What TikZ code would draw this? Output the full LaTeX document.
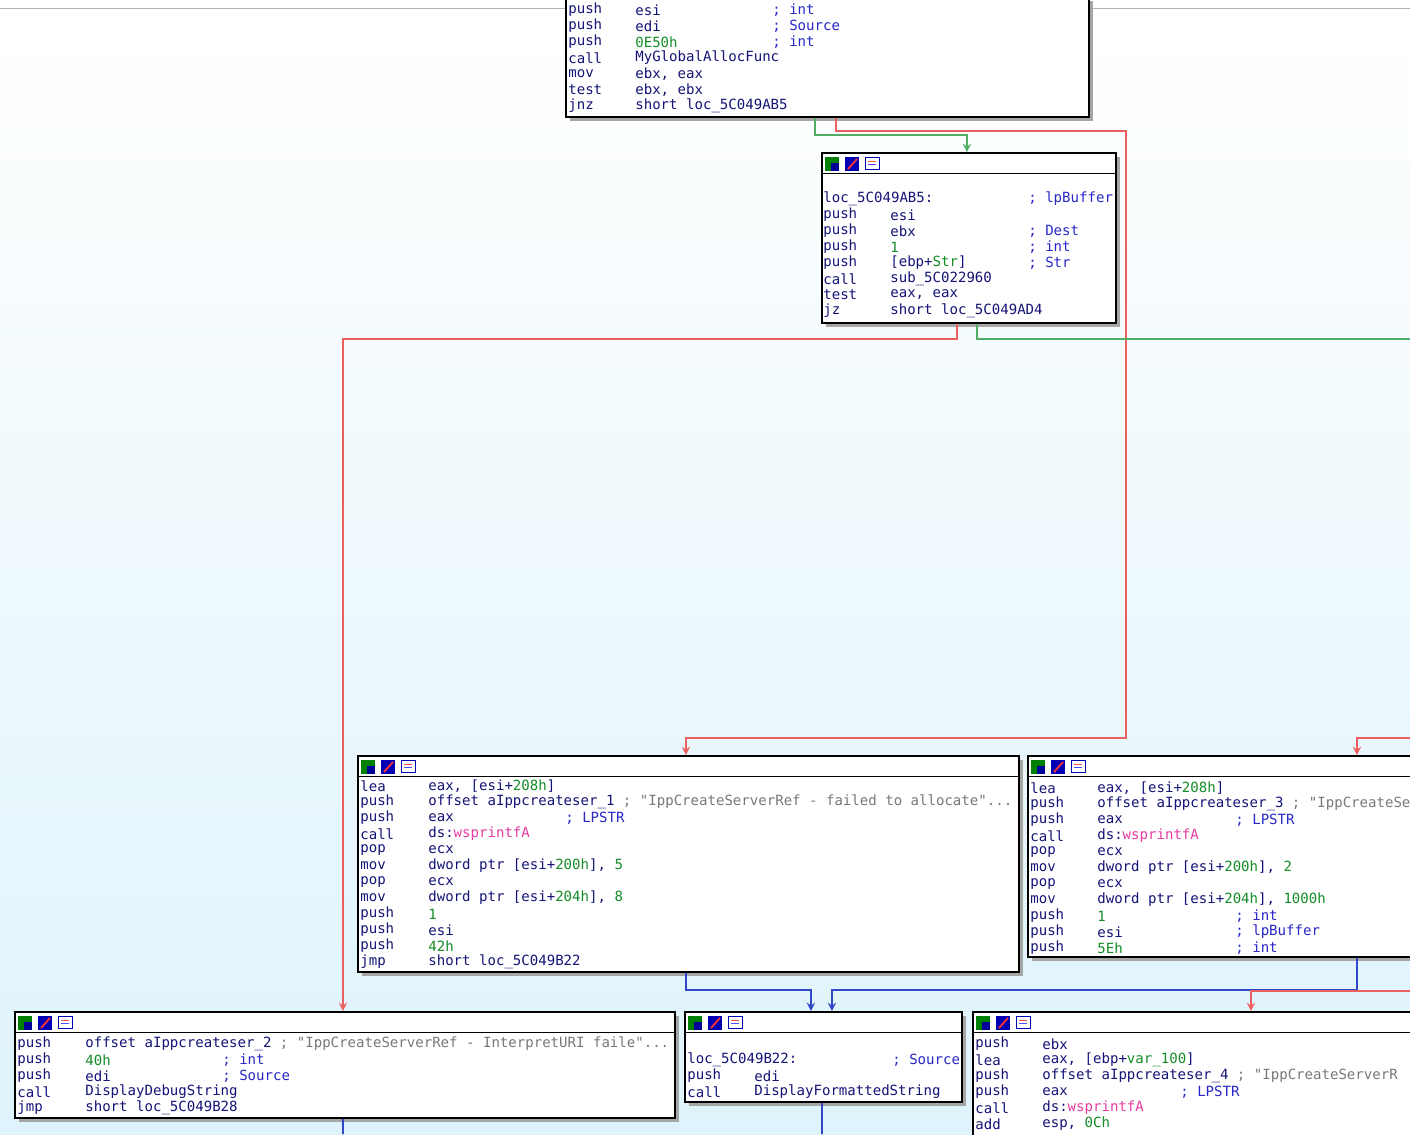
\documentclass[tikz,border=0pt]{standalone}
\usepackage{fontspec}
\newfontfamily\asmfont{DejaVu Sans Mono}
\usetikzlibrary{positioning,calc,shadows}
\definecolor{idabg}{RGB}{222,243,251}
\definecolor{idatext}{RGB}{20,20,120}
\definecolor{idanum}{RGB}{20,140,40}
\definecolor{idacmt}{RGB}{40,40,200}
\definecolor{idastr}{RGB}{120,120,120}
\definecolor{idaimp}{RGB}{230,60,160}
\definecolor{edgered}{RGB}{235,95,95}
\definecolor{edgegreen}{RGB}{80,175,100}
\definecolor{edgeblue}{RGB}{50,70,200}
\newcommand{\nm}[1]{\textcolor{idanum}{#1}}
\newcommand{\strc}[1]{\textcolor{idastr}{#1}}
\newcommand{\imp}[1]{\textcolor{idaimp}{#1}}
% one line of disassembly: x of mnemonic, x of operand, y, mnemonic, operand
\newcommand{\asm}[5]{\node[asm] at (#1,#3) {#4}; \node[asm] at (#2,#3) {#5};}
% a comment at x, y
\newcommand{\cmtat}[3]{\node[asm, text=idacmt] at (#1,#2) {#3};}
% the three header icons of a block
\newcommand{\hdicons}[1]{
  \fill[green!50!black] ([shift={(4,5)}]#1.north west) rectangle ++(14,14);
  \fill[blue!60!black] ([shift={(10,11)}]#1.north west) rectangle ++(8,8);
  \fill[blue!70!black] ([shift={(24,5)}]#1.north west) rectangle ++(14,14);
  \draw[red!80, line width=1pt] ([shift={(27,17)}]#1.north west) -- ++(9,-10);
  \draw[blue!70!black, fill=white] ([shift={(44,5)}]#1.north west) rectangle ++(14,12);
  \draw[red!70] ([shift={(47,9)}]#1.north west) -- ++(8,0);
  \draw[blue!70] ([shift={(47,12)}]#1.north west) -- ++(8,0);
  \draw[black] ([shift={(0,21)}]#1.north west) -- ([shift={(0,21)}]#1.north east);
}
\begin{document}
\begin{tikzpicture}[x=0.02cm, y=-0.02cm,
    block/.style={draw=black, line width=1pt, fill=white, anchor=north west, inner sep=0,
      drop shadow={shadow xshift=2.5pt, shadow yshift=-2.5pt, fill=gray!70, opacity=1}},
    asm/.style={anchor=west, inner sep=0, font=\asmfont\fontsize{8}{9}\selectfont, text=idatext},
    redge/.style={draw=edgered, line width=1.1pt, -stealth},
    gedge/.style={draw=edgegreen, line width=1.1pt, -stealth},
    bedge/.style={draw=edgeblue, line width=1.1pt, -stealth}]
\useasboundingbox (0,0) rectangle (1410,1134);
\clip (0,0) rectangle (1410,1134);
\shade[top color=white, bottom color=idabg] (0,8) rectangle (1410,1134);
\draw[gray!60] (0,8) -- (1410,8);

% blocks
\node[block, minimum width=523*0.02cm, minimum height=120*0.02cm] (alloc) at (565,-4) {};
\node[block, minimum width=294*0.02cm, minimum height=170*0.02cm] (copy) at (821,152) {};
\node[block, minimum width=661*0.02cm, minimum height=216*0.02cm] (fail1) at (357,755) {};
\node[block, minimum width=400*0.02cm, minimum height=201*0.02cm] (fail3) at (1027,755) {};
\node[block, minimum width=660*0.02cm, minimum height=106*0.02cm] (fail2) at (14,1011) {};
\node[block, minimum width=277*0.02cm, minimum height=90*0.02cm] (show) at (684,1011) {};
\node[block, minimum width=450*0.02cm, minimum height=140*0.02cm] (fail4) at (972,1011) {};
\foreach \b in {copy,fail1,fail3,fail2,show,fail4} {\hdicons{\b}}

% edges
\draw[gedge] ([xshift=5cm]alloc.south west) -- ++(0,17) -| ([xshift=2.92cm]copy.north west);
\draw[redge] ([xshift=5.42cm]alloc.south west) -- ++(0,13) -| (1126,738) -| ([xshift=6.58cm]fail1.north west);
\draw[redge] ([xshift=2.72cm]copy.south west) -- ++(0,15) -| ([xshift=6.58cm]fail2.north west);
\draw[edgegreen, line width=1.1pt] ([xshift=3.12cm]copy.south west) -- ++(0,15) -- ++(500,0);
\draw[redge] (1410,738) -| ([xshift=6.6cm]fail3.north west);
\draw[bedge] ([xshift=6.58cm]fail1.south west) -- ++(0,17) -| ([xshift=2.54cm]show.north west);
\draw[bedge] ([xshift=6.6cm]fail3.south west) -- ++(0,32) -| ([xshift=2.96cm]show.north west);
\draw[redge] (1410,991) -| ([xshift=5.58cm]fail4.north west);
\draw[edgeblue, line width=1.1pt] ([xshift=6.58cm]fail2.south west) -- (343,1134);
\draw[edgeblue, line width=1.1pt] ([xshift=2.76cm]show.south west) -- (822,1134);

% alloc block
\asm{568}{635}{10}{push}{esi}
\asm{568}{635}{26}{push}{edi}
\asm{568}{635}{42}{push}{\nm{0E50h}}
\asm{568}{635}{58}{call}{MyGlobalAllocFunc}
\asm{568}{635}{74}{mov}{ebx, eax}
\asm{568}{635}{90}{test}{ebx, ebx}
\asm{568}{635}{106}{jnz}{short loc\_5C049AB5}
\cmtat{772}{10}{; int}
\cmtat{772}{26}{; Source}
\cmtat{772}{42}{; int}

% copy block
\asm{823}{890}{199}{loc\_5C049AB5:}{}
\asm{823}{890}{215}{push}{esi}
\asm{823}{890}{231}{push}{ebx}
\asm{823}{890}{247}{push}{\nm{1}}
\asm{823}{890}{263}{push}{[ebp+\nm{Str}]}
\asm{823}{890}{279}{call}{sub\_5C022960}
\asm{823}{890}{295}{test}{eax, eax}
\asm{823}{890}{311}{jz}{short loc\_5C049AD4}
\cmtat{1028}{199}{; lpBuffer}
\cmtat{1028}{231}{; Dest}
\cmtat{1028}{247}{; int}
\cmtat{1028}{263}{; Str}

% fail1 block
\asm{360}{428}{786}{lea}{eax, [esi+\nm{208h}]}
\asm{360}{428}{802}{push}{offset aIppcreateser\_1 \strc{; "IppCreateServerRef - failed to allocate"...}}
\asm{360}{428}{818}{push}{eax}
\asm{360}{428}{834}{call}{ds:\imp{wsprintfA}}
\asm{360}{428}{850}{pop}{ecx}
\asm{360}{428}{866}{mov}{dword ptr [esi+\nm{200h}], \nm{5}}
\asm{360}{428}{882}{pop}{ecx}
\asm{360}{428}{898}{mov}{dword ptr [esi+\nm{204h}], \nm{8}}
\asm{360}{428}{914}{push}{\nm{1}}
\asm{360}{428}{930}{push}{esi}
\asm{360}{428}{946}{push}{\nm{42h}}
\asm{360}{428}{962}{jmp}{short loc\_5C049B22}
\cmtat{565}{818}{; LPSTR}

% fail3 block
\asm{1030}{1097}{788}{lea}{eax, [esi+\nm{208h}]}
\asm{1030}{1097}{804}{push}{offset aIppcreateser\_3 \strc{; "IppCreateServerRef"}}
\asm{1030}{1097}{820}{push}{eax}
\asm{1030}{1097}{836}{call}{ds:\imp{wsprintfA}}
\asm{1030}{1097}{852}{pop}{ecx}
\asm{1030}{1097}{868}{mov}{dword ptr [esi+\nm{200h}], \nm{2}}
\asm{1030}{1097}{884}{pop}{ecx}
\asm{1030}{1097}{900}{mov}{dword ptr [esi+\nm{204h}], \nm{1000h}}
\asm{1030}{1097}{916}{push}{\nm{1}}
\asm{1030}{1097}{932}{push}{esi}
\asm{1030}{1097}{948}{push}{\nm{5Eh}}
\cmtat{1235}{820}{; LPSTR}
\cmtat{1235}{916}{; int}
\cmtat{1235}{932}{; lpBuffer}
\cmtat{1235}{948}{; int}

% fail2 block
\asm{17}{85}{1044}{push}{offset aIppcreateser\_2 \strc{; "IppCreateServerRef - InterpretURI faile"...}}
\asm{17}{85}{1060}{push}{\nm{40h}}
\asm{17}{85}{1076}{push}{edi}
\asm{17}{85}{1092}{call}{DisplayDebugString}
\asm{17}{85}{1108}{jmp}{short loc\_5C049B28}
\cmtat{222}{1060}{; int}
\cmtat{222}{1076}{; Source}

% show block
\asm{687}{754}{1060}{loc\_5C049B22:}{}
\asm{687}{754}{1076}{push}{edi}
\asm{687}{754}{1092}{call}{DisplayFormattedString}
\cmtat{892}{1060}{; Source}

% fail4 block
\asm{975}{1042}{1044}{push}{ebx}
\asm{975}{1042}{1060}{lea}{eax, [ebp+\nm{var\_100}]}
\asm{975}{1042}{1076}{push}{offset aIppcreateser\_4 \strc{; "IppCreateServerR}}
\asm{975}{1042}{1092}{push}{eax}
\asm{975}{1042}{1108}{call}{ds:\imp{wsprintfA}}
\asm{975}{1042}{1124}{add}{esp, \nm{0Ch}}
\cmtat{1180}{1092}{; LPSTR}
\end{tikzpicture}
\end{document}
